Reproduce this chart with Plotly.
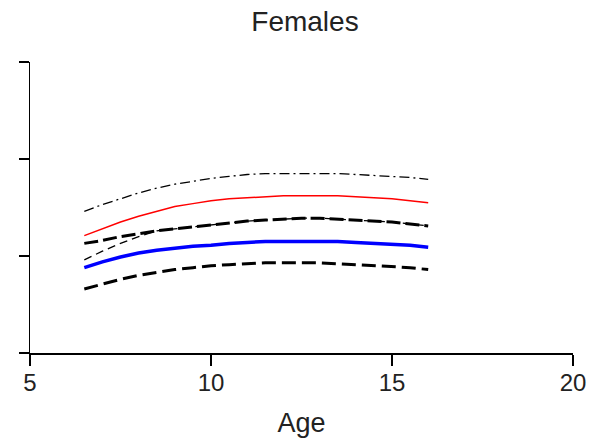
import plotly.graph_objects as go

age = [6.5, 7, 7.5, 8, 8.5, 9, 9.5, 10, 10.5, 11, 11.5, 12, 12.5, 13, 13.5, 14, 14.5, 15, 15.5, 16]
upper_dashdot = [1.46, 1.53, 1.59, 1.65, 1.70, 1.74, 1.77, 1.80, 1.82, 1.84, 1.85, 1.85, 1.85, 1.85, 1.85, 1.84, 1.83, 1.82, 1.81, 1.79]
red_line = [1.21, 1.28, 1.35, 1.41, 1.46, 1.51, 1.54, 1.57, 1.59, 1.60, 1.61, 1.62, 1.62, 1.62, 1.62, 1.61, 1.60, 1.59, 1.57, 1.55]
upper_thick_dash = [1.13, 1.16, 1.20, 1.23, 1.26, 1.28, 1.30, 1.32, 1.34, 1.36, 1.37, 1.38, 1.39, 1.39, 1.38, 1.37, 1.36, 1.35, 1.33, 1.31]
thin_dash = [0.96, 1.05, 1.13, 1.20, 1.26, 1.28, 1.30, 1.32, 1.34, 1.36, 1.37, 1.38, 1.39, 1.39, 1.38, 1.37, 1.36, 1.35, 1.33, 1.31]
blue_line = [0.88, 0.94, 0.99, 1.03, 1.06, 1.08, 1.10, 1.11, 1.13, 1.14, 1.15, 1.15, 1.15, 1.15, 1.15, 1.14, 1.13, 1.12, 1.11, 1.09]
lower_thick_dash = [0.66, 0.71, 0.76, 0.80, 0.83, 0.86, 0.88, 0.90, 0.91, 0.92, 0.93, 0.93, 0.93, 0.93, 0.92, 0.91, 0.90, 0.89, 0.88, 0.86]

x_ticks = [5, 10, 15, 20]
y_ticks = [0, 1, 2, 3]

fig = go.Figure()
fig.add_trace(go.Scatter(x=age, y=upper_dashdot, mode="lines",
                         line=dict(color="black", width=1.3, dash="10px,4px,2px,4px")))
fig.add_trace(go.Scatter(x=age, y=red_line, mode="lines",
                         line=dict(color="red", width=1.5)))
fig.add_trace(go.Scatter(x=age, y=thin_dash, mode="lines",
                         line=dict(color="black", width=1.3, dash="8px,5px")))
fig.add_trace(go.Scatter(x=age, y=upper_thick_dash, mode="lines",
                         line=dict(color="black", width=3, dash="14px,5px")))
fig.add_trace(go.Scatter(x=age, y=blue_line, mode="lines",
                         line=dict(color="blue", width=3.5)))
fig.add_trace(go.Scatter(x=age, y=lower_thick_dash, mode="lines",
                         line=dict(color="black", width=3, dash="14px,6px")))

fig.update_layout(
    width=598, height=445,
    margin=dict(l=30, r=21, t=62, b=89),
    paper_bgcolor="white", plot_bgcolor="white",
    showlegend=False,
    font=dict(family="Liberation Sans, Arial, sans-serif", color="#222"),
    title=dict(text="Females", x=0.51, xanchor="center", y=0.952, yanchor="middle",
               font=dict(size=28, color="#222")),
    xaxis=dict(range=[5, 20], tickvals=x_ticks, ticks="outside", ticklen=11,
               tickwidth=1.5, tickcolor="black", showline=True, linecolor="black",
               linewidth=1.5, showgrid=False, zeroline=False,
               tickfont=dict(size=24, color="#222"), ticklabelstandoff=-3,
               title=dict(text="Age", font=dict(size=27, color="#222"), standoff=18)),
    yaxis=dict(range=[0, 3], tickvals=y_ticks, ticks="outside", ticklen=10,
               tickwidth=1.5, tickcolor="black", showline=True, linecolor="black",
               linewidth=1.5, showgrid=False, zeroline=False, showticklabels=False),
)

fig.write_html(
    "out.html",
    config={"displayModeBar": False, "staticPlot": True},
    post_script="document.body.style.margin='0';document.body.style.overflow='hidden';"
                "document.documentElement.style.overflow='hidden';",
)
